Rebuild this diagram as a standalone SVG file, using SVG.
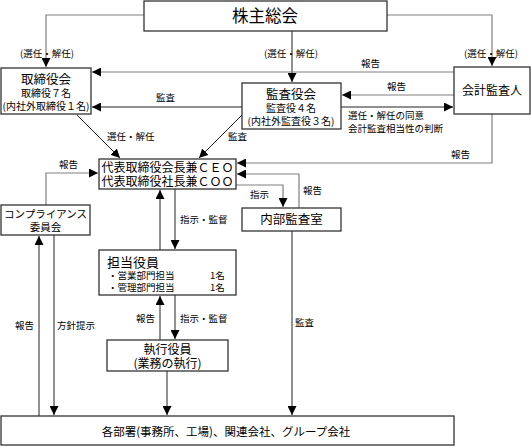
<svg xmlns="http://www.w3.org/2000/svg" width="531" height="447" viewBox="0 0 531 447">
<defs>
<marker id="ah" viewBox="0 0 10 10" refX="10" refY="5" markerWidth="9" markerHeight="9" markerUnits="userSpaceOnUse" orient="auto">
<path d="M0,0 L10,5 L0,10 Z" fill="#000"/>
</marker>
<style>
.box{fill:#fff;stroke:#333;stroke-width:1.3}
.t{font-family:"Noto Sans CJK JP","Noto Sans CJK SC",sans-serif;fill:#000;text-anchor:middle}
.l{font-family:"Noto Sans CJK JP","Noto Sans CJK SC",sans-serif;fill:#000;font-size:9.5px}
.g{fill:none;stroke:#808080;stroke-width:1.2}
.k{fill:none;stroke:#222;stroke-width:1}
</style>
</defs>
<rect width="531" height="447" fill="#fff"/>

<g id="connectors">
<path class="g" d="M144,15 H46 V67" marker-end="url(#ah)"/>
<path class="k" d="M292,31 V82" marker-end="url(#ah)"/>
<path class="g" d="M387,15 H492 V66" marker-end="url(#ah)"/>
<path class="g" d="M454,72 H92" marker-end="url(#ah)"/>
<path class="k" d="M242,107 H92" marker-end="url(#ah)"/>
<path class="g" d="M454,95 H342" marker-end="url(#ah)"/>
<path class="k" d="M341,107 H453" marker-end="url(#ah)"/>
<path class="k" d="M77,115 L120,158" marker-end="url(#ah)"/>
<path class="k" d="M242,115 L199,158" marker-end="url(#ah)"/>
<path class="g" d="M492,114 V163 H237" marker-end="url(#ah)"/>
<path class="g" d="M299,208 V174 H237" marker-end="url(#ah)"/>
<path class="g" d="M236,185 H283 V207" marker-end="url(#ah)"/>
<path class="g" d="M46,205 V173 H98" marker-end="url(#ah)"/>
<path class="k" d="M160,250 V190" marker-end="url(#ah)"/>
<path class="k" d="M175,189 V249" marker-end="url(#ah)"/>
<path class="k" d="M160,340 V296" marker-end="url(#ah)"/>
<path class="k" d="M175,295 V339" marker-end="url(#ah)"/>
<path class="k" d="M167,371 V415" marker-end="url(#ah)"/>
<path class="k" d="M292,231 V415" marker-end="url(#ah)"/>
<path class="k" d="M39,416 V236" marker-end="url(#ah)"/>
<path class="k" d="M54,235 V415" marker-end="url(#ah)"/>
<text class="l" x="20" y="57">(選任・解任)</text>
<text class="l" x="264" y="57">(選任・解任)</text>
<text class="l" x="464" y="57">(選任・解任)</text>
<text class="l" x="361" y="67">報告</text>
<text class="l" x="156" y="101">監査</text>
<text class="l" x="387" y="90">報告</text>
<text class="l" x="348" y="119">選任・解任の同意</text>
<text class="l" x="348" y="132">会計監査相当性の判断</text>
<text class="l" x="107" y="140">選任・解任</text>
<text class="l" x="228" y="140">監査</text>
<text class="l" x="451" y="158">報告</text>
<text class="l" x="59" y="168">報告</text>
<text class="l" x="303" y="194">報告</text>
<text class="l" x="250" y="198">指示</text>
<text class="l" x="180" y="223">指示・監督</text>
<text class="l" x="136" y="322">報告</text>
<text class="l" x="180" y="322">指示・監督</text>
<text class="l" x="15" y="329">報告</text>
<text class="l" x="57" y="329">方針提示</text>
<text class="l" x="295" y="326">監査</text>
</g>

<g id="shareholders">
<rect class="box" x="144" y="1" width="243" height="30"/>
<text class="t" x="265" y="22" font-size="16.5">株主総会</text>
</g>
<g id="board">
<rect class="box" x="1" y="68" width="90" height="46"/>
<text class="t" x="46" y="84" font-size="12.5">取締役会</text>
<text class="t" x="46" y="97" font-size="10">取締役７名</text>
<text class="t" x="46" y="110" font-size="10">(内社外取締役１名)</text>
</g>
<g id="auditboard">
<rect class="box" x="242" y="83" width="99" height="46"/>
<text class="t" x="291" y="99" font-size="12.5">監査役会</text>
<text class="t" x="291" y="112" font-size="10">監査役４名</text>
<text class="t" x="291" y="125" font-size="10">(内社外監査役３名)</text>
</g>
<g id="accountant">
<rect class="box" x="454" y="67" width="76" height="47"/>
<text class="t" x="492" y="95" font-size="12">会計監査人</text>
</g>
<g id="ceo">
<rect class="box" x="99" y="159" width="137" height="30"/>
<text class="t" x="167.5" y="172" font-size="12">代表取締役会長兼ＣＥＯ</text>
<text class="t" x="167.5" y="186" font-size="12">代表取締役社長兼ＣＯＯ</text>
</g>
<g id="compliance">
<rect class="box" x="1" y="205" width="89" height="30"/>
<text class="t" x="45.5" y="218" font-size="10.5">コンプライアンス</text>
<text class="t" x="45.5" y="231" font-size="10.5">委員会</text>
</g>
<g id="internalaudit">
<rect class="box" x="242" y="208" width="99" height="23"/>
<text class="t" x="291.5" y="224" font-size="12.5">内部監査室</text>
</g>
<g id="officers">
<rect class="box" x="99" y="250" width="137" height="45"/>
<text x="107" y="267" font-size="13" class="t" style="text-anchor:start">担当役員</text>
<text x="108" y="279" font-size="9.5" class="l">・営業部門担当</text>
<text x="210" y="279" font-size="9.5" class="l">1名</text>
<text x="108" y="291" font-size="9.5" class="l">・管理部門担当</text>
<text x="210" y="291" font-size="9.5" class="l">1名</text>
</g>
<g id="executive">
<rect class="box" x="107" y="340" width="121" height="31"/>
<text class="t" x="167.5" y="354" font-size="12">執行役員</text>
<text class="t" x="167.5" y="368" font-size="12">(業務の執行)</text>
</g>
<g id="departments">
<rect class="box" x="1" y="416" width="453" height="29"/>
<text class="t" x="226" y="436" font-size="11.5">各部署(事務所、工場)、関連会社、グループ会社</text>
</g>
</svg>
